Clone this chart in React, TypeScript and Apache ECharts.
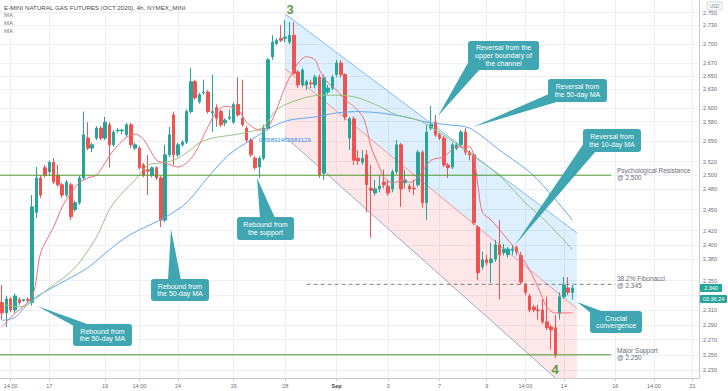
import React, { useEffect, useRef } from 'react';
import * as echarts from 'echarts';

// ---------- x axis (4h slots) ----------
const slotCount = 163;
const xTickIndex = [2, 11, 24, 32, 41, 54, 66, 78, 90, 102, 113, 122, 131, 143, 152, 161];
const xTickText = ['14:00', '17', '19', '14:00', '24', '26', '28', 'Sep', '3', '7', '9', '14:00', '14', '16', '14:00', '21'];

// ---------- candles ----------
const opens = [
  2.320, 2.306, 2.325, 2.310, 2.324, 2.323, 2.324, 2.320, 2.446, 2.496,
  2.511, 2.505, 2.519, 2.500, 2.486, 2.471, 2.486, 2.450, 2.460, 2.496,
  2.555, 2.540, 2.555, 2.570, 2.555, 2.575, 2.545, 2.566, 2.566, 2.560,
  2.575, 2.540, 2.540, 2.515, 2.508, 2.500, 2.511, 2.496, 2.435, 2.530,
  2.590, 2.530, 2.545, 2.549, 2.595, 2.641, 2.610, 2.624, 2.625, 2.593,
  2.601, 2.595, 2.578, 2.585, 2.579, 2.606, 2.585, 2.570, 2.552, 2.525,
  2.512, 2.525, 2.570, 2.680, 2.701, 2.709, 2.709, 2.703, 2.714, 2.656,
  2.636, 2.636, 2.639, 2.636, 2.648, 2.503, 2.625, 2.631, 2.652, 2.670,
  2.652, 2.555, 2.584, 2.525, 2.519, 2.530, 2.481, 2.474, 2.480, 2.490,
  2.484, 2.480, 2.505, 2.545, 2.489, 2.484, 2.481, 2.486, 2.534, 2.460,
  2.570, 2.579, 2.560, 2.555, 2.515, 2.512, 2.540, 2.545, 2.564, 2.534,
  2.530, 2.425, 2.369, 2.379, 2.375, 2.380, 2.400, 2.389, 2.386, 2.392,
  2.396, 2.385, 2.344, 2.329, 2.314, 2.310, 2.310, 2.294, 2.287, 2.286,
  2.305, 2.328, 2.340, 2.334,
];
const closes = [
  2.306, 2.325, 2.310, 2.329, 2.320, 2.324, 2.323, 2.454, 2.496, 2.471,
  2.500, 2.519, 2.490, 2.486, 2.471, 2.490, 2.440, 2.460, 2.496, 2.560,
  2.540, 2.545, 2.570, 2.555, 2.579, 2.545, 2.564, 2.567, 2.567, 2.575,
  2.545, 2.545, 2.511, 2.500, 2.506, 2.511, 2.496, 2.435, 2.530, 2.560,
  2.530, 2.545, 2.549, 2.595, 2.641, 2.616, 2.621, 2.625, 2.595, 2.595,
  2.585, 2.575, 2.582, 2.587, 2.606, 2.590, 2.575, 2.552, 2.530, 2.511,
  2.525, 2.570, 2.675, 2.703, 2.706, 2.706, 2.711, 2.714, 2.654, 2.636,
  2.659, 2.641, 2.638, 2.648, 2.500, 2.647, 2.631, 2.648, 2.670, 2.652,
  2.587, 2.584, 2.522, 2.521, 2.525, 2.486, 2.478, 2.480, 2.484, 2.486,
  2.474, 2.505, 2.545, 2.480, 2.493, 2.480, 2.480, 2.534, 2.460, 2.564,
  2.575, 2.560, 2.555, 2.515, 2.511, 2.545, 2.545, 2.564, 2.534, 2.530,
  2.431, 2.361, 2.379, 2.375, 2.380, 2.400, 2.386, 2.394, 2.394, 2.394,
  2.390, 2.348, 2.334, 2.310, 2.310, 2.309, 2.294, 2.286, 2.283, 2.250,
  2.328, 2.344, 2.334, 2.340,
];
const lows = [
  2.297, 2.287, 2.307, 2.306, 2.317, 2.321, 2.320, 2.316, 2.438, 2.467,
  2.497, 2.499, 2.487, 2.483, 2.467, 2.468, 2.435, 2.447, 2.457, 2.493,
  2.537, 2.534, 2.552, 2.552, 2.552, 2.511, 2.542, 2.563, 2.561, 2.557,
  2.540, 2.537, 2.508, 2.497, 2.471, 2.497, 2.493, 2.425, 2.432, 2.527,
  2.515, 2.527, 2.542, 2.546, 2.592, 2.613, 2.607, 2.621, 2.592, 2.564,
  2.572, 2.572, 2.573, 2.582, 2.576, 2.587, 2.572, 2.549, 2.527, 2.508,
  2.496, 2.522, 2.567, 2.675, 2.698, 2.703, 2.703, 2.700, 2.652, 2.631,
  2.633, 2.628, 2.631, 2.631, 2.496, 2.493, 2.621, 2.628, 2.648, 2.647,
  2.582, 2.537, 2.515, 2.515, 2.515, 2.446, 2.410, 2.470, 2.475, 2.481,
  2.470, 2.475, 2.502, 2.454, 2.481, 2.475, 2.471, 2.483, 2.453, 2.435,
  2.567, 2.557, 2.552, 2.512, 2.496, 2.509, 2.537, 2.542, 2.530, 2.522,
  2.428, 2.351, 2.365, 2.371, 2.347, 2.376, 2.324, 2.385, 2.382, 2.386,
  2.385, 2.345, 2.330, 2.307, 2.307, 2.297, 2.291, 2.283, 2.257, 2.246,
  2.297, 2.325, 2.330, 2.324,
];
const highs = [
  2.344, 2.329, 2.328, 2.332, 2.327, 2.325, 2.327, 2.471, 2.512, 2.499,
  2.515, 2.522, 2.525, 2.515, 2.489, 2.493, 2.489, 2.463, 2.499, 2.595,
  2.579, 2.548, 2.573, 2.573, 2.587, 2.579, 2.567, 2.570, 2.569, 2.578,
  2.578, 2.548, 2.543, 2.518, 2.530, 2.513, 2.513, 2.499, 2.545, 2.572,
  2.595, 2.548, 2.552, 2.598, 2.662, 2.644, 2.624, 2.644, 2.628, 2.652,
  2.606, 2.598, 2.585, 2.598, 2.609, 2.648, 2.644, 2.573, 2.555, 2.528,
  2.528, 2.575, 2.678, 2.714, 2.709, 2.730, 2.738, 2.735, 2.735, 2.659,
  2.662, 2.644, 2.644, 2.652, 2.652, 2.652, 2.636, 2.652, 2.675, 2.675,
  2.654, 2.587, 2.588, 2.537, 2.537, 2.537, 2.515, 2.493, 2.500, 2.508,
  2.493, 2.508, 2.552, 2.548, 2.508, 2.487, 2.493, 2.537, 2.537, 2.575,
  2.604, 2.590, 2.563, 2.558, 2.518, 2.548, 2.548, 2.567, 2.570, 2.537,
  2.533, 2.428, 2.390, 2.386, 2.403, 2.407, 2.435, 2.401, 2.397, 2.400,
  2.399, 2.390, 2.347, 2.332, 2.317, 2.317, 2.324, 2.328, 2.290, 2.303,
  2.334, 2.355, 2.355, 2.344,
];

// ---------- moving averages (read at sample points: [slot, price]) ----------
const maFast: [number, number][] = [
  [0, 2.287], [2, 2.300], [7, 2.329], [9, 2.389], [12, 2.425], [14, 2.454], [16, 2.474], [18, 2.489],
  [20, 2.496], [22, 2.500], [24, 2.518], [26, 2.537], [29, 2.556], [31, 2.561], [33, 2.553], [36, 2.522],
  [38, 2.518], [41, 2.512], [43, 2.518], [45, 2.533], [48, 2.572], [50, 2.595], [52, 2.603], [55, 2.598],
  [57, 2.579], [60, 2.567], [62, 2.572], [64, 2.598], [66, 2.633], [69, 2.670], [71, 2.680], [73, 2.675],
  [74, 2.659], [76, 2.639], [78, 2.628], [80, 2.613], [82, 2.603], [84, 2.588], [85, 2.570], [86, 2.542],
  [88, 2.512], [89, 2.497], [91, 2.489], [94, 2.493], [95, 2.489], [97, 2.497], [100, 2.522], [103, 2.527],
  [106, 2.542], [109, 2.542], [110, 2.527], [111, 2.483], [112, 2.446], [114, 2.435], [117, 2.414],
  [122, 2.375], [125, 2.341], [127, 2.314], [129, 2.306], [131, 2.306], [133, 2.306],
];
const maMid: [number, number][] = [
  [0, 2.318], [4, 2.314], [11, 2.340], [17, 2.368], [22, 2.411], [25, 2.450], [28, 2.474], [31, 2.493],
  [34, 2.515], [37, 2.518], [40, 2.522], [43, 2.533], [46, 2.548], [49, 2.555], [54, 2.560], [58, 2.565],
  [61, 2.572], [64, 2.598], [69, 2.613], [74, 2.620], [79, 2.620], [83, 2.616], [88, 2.603], [92, 2.590],
  [97, 2.582], [100, 2.572], [108, 2.537], [116, 2.499], [122, 2.460], [127, 2.432], [133, 2.393],
];
const maSlow: [number, number][] = [
  [0, 2.296], [3, 2.300], [7, 2.324], [15, 2.351], [20, 2.368], [25, 2.393], [29, 2.411], [32, 2.421],
  [38, 2.439], [43, 2.460], [48, 2.497], [53, 2.531], [58, 2.552], [63, 2.572], [67, 2.582], [73, 2.587],
  [78, 2.593], [83, 2.595], [88, 2.593], [94, 2.587], [99, 2.579], [104, 2.575], [109, 2.570], [116, 2.537],
  [124, 2.499], [133, 2.435],
];

// ---------- y axis (log price scale) ----------
const yMin = 2.2196;
const yMax = 2.7706;
const yTicks = [2.75, 2.725, 2.7, 2.675, 2.65, 2.625, 2.6, 2.575, 2.55, 2.525, 2.5, 2.475, 2.45, 2.425, 2.4, 2.375, 2.35, 2.33, 2.31, 2.29, 2.27, 2.25, 2.23];
const hiddenTickLabels = [2.33];

// ---------- drawings ----------
const channelLeft = 66;
const channelRight = 134;
const channelLowerEnd = 129;
const upperLine = [2.748, 2.417];
const middleLine = [2.661, 2.312];
const lowerLineStart = 2.557;
const resistance = 2.5;
const support = 2.25;
const fib = 2.345;
const levelEnd = 142;
const fibStart = 71;
const fibEnd = 143;
const lastPrice = '2.340';

const FONT = 'Liberation Sans';
const TEAL = '#3fa6b2';
const LEVEL_GREEN = '#4f9a2e';

type Callout = { x: number; y: number; w: number; h: number; text: string; ptr: number[][] };
const callouts: Callout[] = [
  { x: 73, y: 324, w: 59, h: 22, text: 'Rebound from\nthe 50-day MA', ptr: [[37, 306], [74, 326], [90, 325]] },
  { x: 151, y: 279, w: 58, h: 22, text: 'Rebound from\nthe 50-day MA', ptr: [[171, 229], [168, 280], [181, 280]] },
  { x: 237, y: 217, w: 57, h: 23, text: 'Rebound from\nthe support', ptr: [[257, 178], [260, 218], [275, 218]] },
  { x: 468, y: 41, w: 71, h: 29, text: 'Reversal from the\nupper boundary of\nthe channel', ptr: [[438, 116], [469, 61], [480, 69]] },
  { x: 548, y: 79, w: 59, h: 23, text: 'Reversal from\nthe 50-day MA', ptr: [[473, 127], [549, 94], [560, 101]] },
  { x: 583, y: 129, w: 58, h: 23, text: 'Reversal from\nthe 10-day MA', ptr: [[515, 245], [584, 143], [596, 151]] },
  { x: 590, y: 311, w: 52, h: 22, text: 'Crucial\nconvergence', ptr: [[577, 302], [591, 313], [604, 312]] },
];

const levelTexts = [
  { x: 617, y: 170, text: 'Psychological Resistance' },
  { x: 617, y: 177, text: '@ 2.500' },
  { x: 617, y: 278, text: '38.2% Fibonacci' },
  { x: 617, y: 285, text: '@ 2.345' },
  { x: 617, y: 350, text: 'Major Support' },
  { x: 617, y: 357, text: '@ 2.250' },
];

export default function App() {
  const ref = useRef<HTMLDivElement>(null);
  useEffect(() => {
    if (!ref.current) return;
    const chart = echarts.init(ref.current, null, { renderer: 'svg' });
    const categories = Array.from({ length: slotCount }, () => '');
    xTickIndex.forEach((idx, k) => { categories[idx] = xTickText[k]; });
    const tickSet = new Set(xTickIndex);
    const isTick = (idx: number) => tickSet.has(idx);
    const candleData = opens.map((o, i) => [o, closes[i], lows[i], highs[i]]);

    const graphics: any[] = [];
    graphics.push({ type: 'text', x: 4, y: 7, z: 100, style: { text: 'E-MINI NATURAL GAS FUTURES (OCT 2020), 4h, NYMEX_MINI', fill: '#4a4a4a', fontSize: 6.2, fontFamily: FONT, verticalAlign: 'middle' } });
    [15, 23, 31].forEach((yy) => graphics.push({ type: 'text', x: 4, y: yy, z: 100, style: { text: 'MA', fill: '#7b7e88', fontSize: 6, fontFamily: FONT, verticalAlign: 'middle' } }));
    graphics.push({ type: 'text', x: 290, y: 9, z: 100, style: { text: '3', fill: '#5e9e41', fontSize: 13, fontWeight: 'bold', fontFamily: FONT, align: 'center', verticalAlign: 'middle' } });
    graphics.push({ type: 'text', x: 555, y: 369, z: 100, style: { text: '4', fill: '#5e9e41', fontSize: 13, fontWeight: 'bold', fontFamily: FONT, align: 'center', verticalAlign: 'middle' } });
    graphics.push({ type: 'text', x: 259, y: 140, z: 100, style: { text: '0.55891452683129', fill: '#2d8fe6', fontSize: 6, fontFamily: FONT, verticalAlign: 'middle' } });
    levelTexts.forEach((t) => graphics.push({ type: 'text', x: t.x, y: t.y, z: 100, style: { text: t.text, fill: '#6b6e78', fontSize: 6.5, fontFamily: FONT, verticalAlign: 'middle' } }));
    callouts.forEach((c) => {
      graphics.push({ type: 'polygon', z: 99, shape: { points: c.ptr }, style: { fill: TEAL } });
      graphics.push({ type: 'rect', z: 99, shape: { x: c.x, y: c.y, width: c.w, height: c.h, r: 3 }, style: { fill: TEAL } });
      graphics.push({ type: 'text', z: 100, x: c.x + c.w / 2, y: c.y + c.h / 2, style: { text: c.text, fill: '#ffffff', fontSize: 7, lineHeight: 7.6, fontFamily: FONT, align: 'center', verticalAlign: 'middle' } });
    });
    graphics.push({ type: 'rect', z: 100, shape: { x: 700, y: 284, width: 22, height: 8, r: 1 }, style: { fill: '#26a69a' } });
    graphics.push({ type: 'text', z: 101, x: 711, y: 288, style: { text: lastPrice, fill: '#fff', fontSize: 5.5, fontFamily: FONT, align: 'center', verticalAlign: 'middle' } });
    graphics.push({ type: 'rect', z: 100, shape: { x: 700, y: 295, width: 27, height: 8, r: 1 }, style: { fill: '#26a69a' } });
    graphics.push({ type: 'text', z: 101, x: 713.5, y: 299, style: { text: '03:36:24', fill: '#fff', fontSize: 5.5, fontFamily: FONT, align: 'center', verticalAlign: 'middle' } });
    graphics.push({ type: 'rect', z: 100, shape: { x: 707, y: 2, width: 15, height: 8, r: 1 }, style: { fill: '#fff', stroke: '#c8cad0', lineWidth: 0.8 } });
    graphics.push({ type: 'text', z: 101, x: 714.5, y: 6, style: { text: 'USD', fill: '#787b86', fontSize: 4.5, fontFamily: FONT, align: 'center', verticalAlign: 'middle' } });

    const seg = (a: number[], b: number[], color: string, dash?: number[]) => ({
      type: 'line',
      shape: { x1: a[0], y1: a[1], x2: b[0], y2: b[1] },
      style: { stroke: color, lineWidth: 1, lineDash: dash || null, fill: null },
    });

    chart.setOption({
      animation: false,
      backgroundColor: '#ffffff',
      textStyle: { fontFamily: FONT },
      grid: { left: 0, right: 29, top: 0, bottom: 13 },
      xAxis: {
        type: 'category',
        data: categories,
        boundaryGap: true,
        axisLine: { show: true, lineStyle: { color: '#c8cad0' } },
        axisTick: { show: true, alignWithLabel: true, interval: isTick, length: 3, lineStyle: { color: '#c8cad0' } },
        axisLabel: {
          interval: isTick, fontSize: 5.5, color: '#6b6e78', margin: 5,
          formatter: (v: string) => (v === 'Sep' ? '{b|Sep}' : v),
          rich: { b: { fontSize: 5.5, fontWeight: 'bold', color: '#3c3f48' } },
        },
        splitLine: { show: true, interval: isTick, alignWithLabel: true, lineStyle: { color: '#eef0f5', width: 1 } },
      },
      yAxis: {
        type: 'log',
        logBase: 10,
        min: yMin,
        max: yMax,
        position: 'right',
        axisLine: { show: true, lineStyle: { color: '#c8cad0' } },
        axisTick: { show: false },
        axisLabel: { show: false },
        splitLine: { show: false },
      },
      graphic: graphics,
      series: [
        {
          type: 'custom',
          z: 1,
          silent: true,
          data: [[0, resistance]],
          renderItem: (_params: any, api: any) => {
            const p = (i: number, v: number) => api.coord([i, v]);
            const uL = p(channelLeft, upperLine[0]);
            const uR = p(channelRight, upperLine[1]);
            const mL = p(channelLeft, middleLine[0]);
            const mR = p(channelRight, middleLine[1]);
            const lL = p(channelLeft, lowerLineStart);
            const lE = p(channelLowerEnd, yMin);
            const bR = p(channelRight, yMin);
            return {
              type: 'group',
              children: [
                { type: 'polygon', shape: { points: [uL, uR, mR, mL] }, style: { fill: 'rgba(33,150,243,0.15)' } },
                { type: 'polygon', shape: { points: [mL, mR, bR, lE, lL] }, style: { fill: 'rgba(242,54,69,0.12)' } },
                seg(uL, uR, '#86b8ea'),
                seg(mL, mR, '#ef9a9a'),
                seg(lL, lE, '#9fa8c8'),
              ],
            };
          },
        },
        {
          type: 'candlestick',
          z: 3,
          barWidth: 3,
          data: candleData,
          itemStyle: { color: '#26a69a', color0: '#ef5350', borderColor: '#26a69a', borderColor0: '#ef5350', borderWidth: 1 },
          markLine: {
            silent: true,
            z: 0,
            symbol: ['none', 'none'],
            lineStyle: { color: '#eef0f5', width: 1, type: 'solid' },
            label: {
              show: true, position: 'end', distance: 4, color: '#6b6e78', fontSize: 5.6, fontFamily: FONT,
              formatter: (p: any) => (hiddenTickLabels.indexOf(p.value) >= 0 ? '' : Number(p.value).toFixed(3)),
            },
            data: yTicks.map((v) => ({ yAxis: v })),
          },
        },
        { type: 'line', z: 4, data: maSlow, symbol: 'none', smooth: 0.3, lineStyle: { color: '#64a6f5', width: 1 } },
        { type: 'line', z: 4, data: maMid, symbol: 'none', smooth: 0.3, lineStyle: { color: '#95c47f', width: 1 } },
        { type: 'line', z: 4, data: maFast, symbol: 'none', smooth: 0.3, lineStyle: { color: '#f0707a', width: 1 } },
        {
          type: 'custom',
          z: 6,
          silent: true,
          data: [[0, support]],
          renderItem: (_params: any, api: any) => {
            const p = (i: number, v: number) => api.coord([i, v]);
            const r0 = p(0, resistance);
            const r1 = p(levelEnd, resistance);
            const s0 = p(0, support);
            const s1 = p(levelEnd, support);
            const f0 = p(fibStart, fib);
            const f1 = p(fibEnd, fib);
            return {
              type: 'group',
              children: [
                seg([0, r0[1]], r1, LEVEL_GREEN),
                seg([0, s0[1]], s1, LEVEL_GREEN),
                seg(f0, f1, '#7b7e86', [4, 3]),
              ],
            };
          },
        },
      ],
    });
    return () => chart.dispose();
  }, []);
  return <div ref={ref} style={{ position: 'fixed', left: 0, top: 0, width: 728, height: 391 }} />;
}
